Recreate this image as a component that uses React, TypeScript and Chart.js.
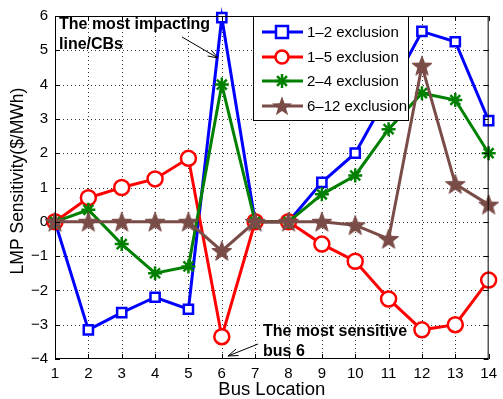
import React, { useEffect, useRef } from "react";
import { Chart, registerables } from "chart.js";
Chart.register(...registerables);

const buses = ["1", "2", "3", "4", "5", "6", "7", "8", "9", "10", "11", "12", "13", "14"];
const excl12 = [0, -3.15, -2.65, -2.2, -2.55, 5.95, 0, 0, 1.15, 2.0, 3.75, 5.55, 5.25, 2.95];
const excl15 = [0, 0.7, 1.0, 1.25, 1.85, -3.35, 0, 0, -0.65, -1.15, -2.25, -3.15, -3.0, -1.7];
const excl24 = [0, 0.35, -0.65, -1.5, -1.3, 4.0, 0, 0, 0.8, 1.35, 2.7, 3.75, 3.55, 2.0];
const excl612 = [0, 0, 0, 0, 0, -0.85, 0, 0, 0, -0.1, -0.5, 4.55, 1.1, 0.5];
const seriesNames = ["1\u20132 exclusion", "1\u20135 exclusion", "2\u20134 exclusion", "6\u201312 exclusion"];
const yTicks = [-4, -3, -2, -1, 0, 1, 2, 3, 4, 5, 6];
const xTitle = "Bus Location";
const yTitle = "LMP Sensitivity($/MWh)";

const BLUE = "rgb(0,0,255)";
const RED = "rgb(255,0,0)";
const GREEN = "rgb(0,128,0)";
const BROWN = "rgb(122,76,72)";
const FONT = "'Liberation Sans', Arial, sans-serif";

function starPath(ctx: CanvasRenderingContext2D, cx: number, cy: number, R: number, r: number) {
  ctx.beginPath();
  for (let i = 0; i < 10; i++) {
    const rad = i % 2 === 0 ? R : r;
    const a = -Math.PI / 2 + (i * Math.PI) / 5;
    const x = cx + rad * Math.cos(a);
    const y = cy + rad * Math.sin(a);
    if (i === 0) ctx.moveTo(x, y);
    else ctx.lineTo(x, y);
  }
  ctx.closePath();
}

function makeStar(): HTMLCanvasElement {
  const c = document.createElement("canvas");
  c.width = 22;
  c.height = 22;
  const ctx = c.getContext("2d")!;
  starPath(ctx, 11, 11.8, 10.5, 4.3);
  ctx.fillStyle = BROWN;
  ctx.fill();
  ctx.strokeStyle = BROWN;
  ctx.lineWidth = 1;
  ctx.stroke();
  return c;
}

function drawAsterisk(ctx: CanvasRenderingContext2D, x: number, y: number, r: number) {
  ctx.beginPath();
  for (let i = 0; i < 4; i++) {
    const a = (i * Math.PI) / 4;
    ctx.moveTo(x - r * Math.cos(a), y - r * Math.sin(a));
    ctx.lineTo(x + r * Math.cos(a), y + r * Math.sin(a));
  }
  ctx.stroke();
}

function arrow(ctx: CanvasRenderingContext2D, x1: number, y1: number, x2: number, y2: number) {
  ctx.save();
  ctx.strokeStyle = "#000";
  ctx.lineWidth = 1;
  ctx.beginPath();
  ctx.moveTo(x1, y1);
  ctx.lineTo(x2, y2);
  ctx.stroke();
  const a = Math.atan2(y2 - y1, x2 - x1);
  const L = 10, W = 3.5;
  ctx.beginPath();
  ctx.moveTo(x2, y2);
  ctx.lineTo(x2 - L * Math.cos(a) + W * Math.sin(a), y2 - L * Math.sin(a) - W * Math.cos(a));
  ctx.moveTo(x2, y2);
  ctx.lineTo(x2 - L * Math.cos(a) - W * Math.sin(a), y2 - L * Math.sin(a) + W * Math.cos(a));
  ctx.stroke();
  ctx.restore();
}

const gridPlugin = {
  id: "dotgrid",
  beforeDatasetsDraw(chart: any) {
    const ctx: CanvasRenderingContext2D = chart.ctx;
    const { left, right, top, bottom } = chart.chartArea;
    const xs = chart.scales.x;
    const ys = chart.scales.y;
    ctx.save();
    ctx.strokeStyle = "#333";
    ctx.lineWidth = 1;
    ctx.setLineDash([1, 3]);
    ctx.beginPath();
    buses.forEach((_, i) => {
      if (i === 0 || i === buses.length - 1) return;
      const x = Math.round(xs.getPixelForValue(i)) + 0.5;
      ctx.moveTo(x, top);
      ctx.lineTo(x, bottom);
    });
    yTicks.forEach((v, i) => {
      if (i === 0 || i === yTicks.length - 1) return;
      const y = Math.round(ys.getPixelForValue(v)) + 0.5;
      ctx.moveTo(left, y);
      ctx.lineTo(right, y);
    });
    ctx.stroke();
    ctx.restore();
  },
};

const decorPlugin = {
  id: "decor",
  afterDraw(chart: any) {
    const ctx: CanvasRenderingContext2D = chart.ctx;
    const { left, right, top, bottom } = chart.chartArea;
    const xs = chart.scales.x;
    const ys = chart.scales.y;
    ctx.save();
    // frame
    ctx.strokeStyle = "#000";
    ctx.lineWidth = 1;
    ctx.strokeRect(left + 0.5, top + 0.5, right - left - 1, bottom - top - 1);
    // inward ticks
    ctx.beginPath();
    buses.forEach((_, i) => {
      const x = Math.round(xs.getPixelForValue(i)) + 0.5;
      ctx.moveTo(x, bottom);
      ctx.lineTo(x, bottom - 5);
      ctx.moveTo(x, top);
      ctx.lineTo(x, top + 5);
    });
    yTicks.forEach((v) => {
      const y = Math.round(ys.getPixelForValue(v)) + 0.5;
      ctx.moveTo(left, y);
      ctx.lineTo(left + 5, y);
      ctx.moveTo(right, y);
      ctx.lineTo(right - 5, y);
    });
    ctx.stroke();

    // axis titles
    ctx.fillStyle = "#000";
    ctx.textAlign = "center";
    ctx.textBaseline = "middle";
    ctx.font = `17px ${FONT}`;
    const wx = ctx.measureText(xTitle).width;
    const fx = Math.min(19, (17 * 107) / wx);
    ctx.font = `${fx}px ${FONT}`;
    ctx.fillText(xTitle, (left + right) / 2, 390);
    ctx.font = `17px ${FONT}`;
    const wy = ctx.measureText(yTitle).width;
    const fy = Math.min(19, (17 * 187) / wy);
    ctx.save();
    ctx.translate(18, 181);
    ctx.rotate(-Math.PI / 2);
    ctx.font = `${fy}px ${FONT}`;
    ctx.fillText(yTitle, 0, 0);
    ctx.restore();

    // legend
    const lx = 253, ly = 16, lw = 155, lh = 104;
    ctx.fillStyle = "#fff";
    ctx.fillRect(lx, ly, lw, lh);
    ctx.strokeStyle = "#000";
    ctx.lineWidth = 1;
    ctx.strokeRect(lx + 0.5, ly + 0.5, lw, lh);
    const rows = [32, 57, 81, 106];
    const colors = [BLUE, RED, GREEN, BROWN];
    ctx.font = `15px ${FONT}`;
    ctx.textBaseline = "middle";
    ctx.textAlign = "left";
    rows.forEach((ry, i) => {
      ctx.strokeStyle = colors[i];
      ctx.lineWidth = 3;
      ctx.beginPath();
      ctx.moveTo(262, ry);
      ctx.lineTo(303, ry);
      ctx.stroke();
      const mx = 282;
      if (i === 0) {
        ctx.fillStyle = "#fff";
        ctx.fillRect(mx - 6, ry - 6, 12, 12);
        ctx.lineWidth = 2.5;
        ctx.strokeRect(mx - 6, ry - 6, 12, 12);
      } else if (i === 1) {
        ctx.fillStyle = "#fff";
        ctx.lineWidth = 2.5;
        ctx.beginPath();
        ctx.arc(mx, ry, 6.5, 0, Math.PI * 2);
        ctx.fill();
        ctx.stroke();
      } else if (i === 2) {
        ctx.lineWidth = 2.5;
        drawAsterisk(ctx, mx, ry, 7);
      } else {
        starPath(ctx, mx, ry + 0.8, 10.5, 4.3);
        ctx.fillStyle = BROWN;
        ctx.fill();
      }
      ctx.fillStyle = "#000";
      ctx.fillText(seriesNames[i], 307, ry + 1);
    });

    // annotations
    ctx.fillStyle = "#000";
    ctx.font = `bold 16px ${FONT}`;
    ctx.textBaseline = "middle";
    ctx.fillText("The most impacting", 59, 25);
    ctx.fillText("line/CBs", 59, 45);
    arrow(ctx, 182, 37, 218, 58);
    ctx.fillText("The most sensitive", 263, 332);
    ctx.fillText("bus 6", 263, 352);
    arrow(ctx, 258, 344, 228, 356);
    ctx.restore();
  },
};

export default function App() {
  const ref = useRef<HTMLCanvasElement>(null);
  useEffect(() => {
    const star = makeStar();
    const common = { borderWidth: 3, pointBorderWidth: 2.5, clip: false as any, tension: 0 };
    const chart = new Chart(ref.current!, {
      type: "line",
      data: {
        labels: buses,
        datasets: [
          { ...common, label: seriesNames[0], data: excl12, borderColor: BLUE, backgroundColor: "#fff", pointStyle: "rect", pointRadius: 6.5, pointBackgroundColor: "#fff", pointBorderColor: BLUE, order: 3 },
          { ...common, label: seriesNames[1], data: excl15, borderColor: RED, backgroundColor: "#fff", pointStyle: "circle", pointRadius: 7.5, pointBackgroundColor: "#fff", pointBorderColor: RED, order: 2 },
          { ...common, label: seriesNames[2], data: excl24, borderColor: GREEN, backgroundColor: GREEN, pointStyle: "star", pointRadius: 7, pointBorderColor: GREEN, order: 1 },
          { ...common, label: seriesNames[3], data: excl612, borderColor: BROWN, backgroundColor: BROWN, pointStyle: star as any, pointRadius: 10, order: 0 },
        ],
      },
      options: {
        animation: false,
        responsive: false,
        maintainAspectRatio: false,
        layout: { padding: { top: 15, right: 9, left: 0, bottom: 0 } },
        plugins: { legend: { display: false }, tooltip: { enabled: false } },
        scales: {
          x: {
            type: "category",
            offset: false,
            grid: { display: false, drawTicks: false },
            border: { display: false },
            ticks: { color: "#000", font: { size: 15, family: FONT }, padding: 6, maxRotation: 0, autoSkip: false },
            title: { display: false },
            afterFit: (s: any) => { s.height = 40; },
          },
          y: {
            min: -4,
            max: 6,
            grid: { display: false, drawTicks: false },
            border: { display: false },
            ticks: { color: "#000", font: { size: 15, family: FONT }, padding: 7, stepSize: 1, callback: (v: any) => (Number(v) < 0 ? "\u2212" + Math.abs(v) : String(v)) },
            title: { display: false },
            afterFit: (s: any) => { s.width = 55; },
          },
        },
      },
      plugins: [gridPlugin, decorPlugin],
    });
    return () => chart.destroy();
  }, []);
  return (
    <div style={{ position: "absolute", left: 0, top: 0, width: 503, height: 399, background: "#fff" }}>
      <canvas ref={ref} width={503} height={399} style={{ width: 503, height: 399 }} />
    </div>
  );
}
